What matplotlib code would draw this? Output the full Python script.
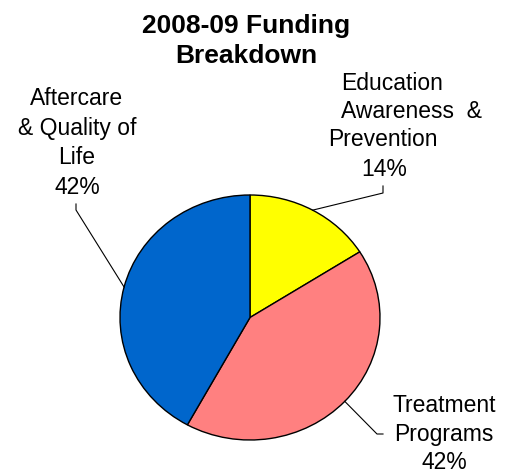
import numpy as np
import matplotlib.pyplot as plt

# slice data (clockwise from 12 o'clock)
labels = ['Education\nAwareness  &\nPrevention', 'Treatment\nPrograms', 'Aftercare\n& Quality of\nLife']
values = [16, 42, 42]
pct_text = ['14%', '42%', '42%']
colors = ['#FFFF00', '#FF8080', '#0066CC']

plt.rcParams['font.family'] = ['Liberation Sans', 'DejaVu Sans']

fig = plt.figure(figsize=(5.07, 4.74), dpi=100)
W, H = 507, 474

# pie box in pixels: left 120, top 195, right 380, bottom 440
ax = fig.add_axes([120 / W, (H - 440) / H, 260 / W, 245 / H])
wedges, _ = ax.pie(values, colors=colors, startangle=90, counterclock=False,
                   wedgeprops=dict(edgecolor='black', linewidth=1.0))
ax.set_aspect('auto')
ax.set_xlim(-1, 1)
ax.set_ylim(-1, 1)
ax.axis('off')


def px(x, y):
    # pixel position -> pie data coords
    return (x - 250) / 130.0, (317.5 - y) / 122.5


# leader lines: from middle of each wedge edge to an elbow
elbows = [((383, 193), (383, 186)), ((377, 434), (383, 434)), ((76, 210), (76, 204))]
for w, (e1, e2) in zip(wedges, elbows):
    mid = np.deg2rad((w.theta1 + w.theta2) / 2)
    x0, y0 = np.cos(mid), np.sin(mid)
    x1, y1 = px(*e1)
    x2, y2 = px(*e2)
    ax.plot([x0, x1, x2], [y0, y1, y2], color='black', lw=0.8, clip_on=False)

fs = 16.5
# Education label (lines are not centred on each other in the original)
edu_lines = labels[0].split('\n') + [pct_text[0]]
edu_pos = [(392, 84), (412, 111), (383, 139), (384, 170)]
for s, (x, y) in zip(edu_lines, edu_pos):
    tx, ty = px(x, y)
    ax.text(tx, ty, s, ha='center', va='center', fontsize=fs)

tx, ty = px(444, 434)
ax.text(tx, ty, labels[1] + '\n' + pct_text[1], ha='center', va='center',
        fontsize=fs, linespacing=1.3)

tx, ty = px(77, 143)
ax.text(tx, ty, labels[2] + '\n' + pct_text[2], ha='center', va='center',
        fontsize=fs, linespacing=1.38)

fig.text(246 / W, 1 - 41 / H, '2008-09 Funding\nBreakdown', ha='center', va='center',
         fontsize=19, fontweight='bold', linespacing=1.3)

fig.savefig('out.png', dpi=100)
